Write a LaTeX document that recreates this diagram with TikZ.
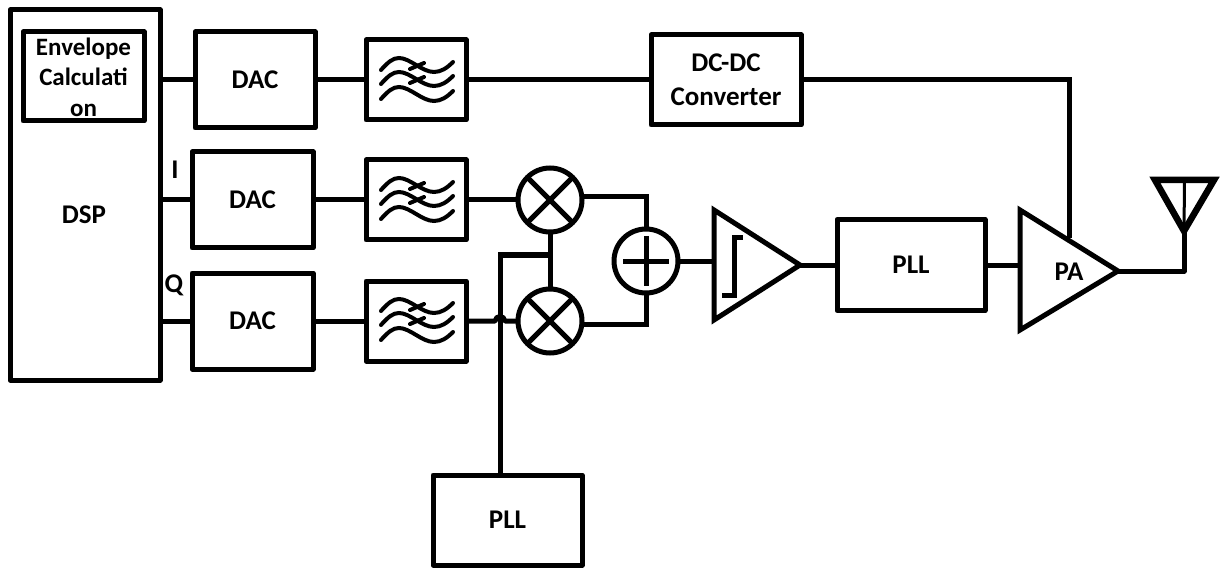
\documentclass[tikz,border=0pt]{standalone}
\usepackage{fontspec}
\setmainfont{Carlito}
\usetikzlibrary{calc}
\tikzset{
  wire/.style={line width=5pt,line join=round},
  box/.style={draw,line width=5pt,line join=round,rectangle,inner sep=0pt,outer sep=0pt,align=center,font=\fontsize{27}{34}\selectfont\bfseries},
  lbl/.style={inner sep=0pt,font=\fontsize{27}{34}\selectfont\bfseries},
  envlbl/.style={inner sep=0pt,align=center,font=\fontsize{25}{30.5}\selectfont\bfseries},
  ring/.style={draw,line width=5pt,circle,minimum size=64pt,inner sep=0pt,outer sep=0pt},
  wave/.style={line width=4pt,line cap=round},
  tri/.style={draw,line width=5pt,line join=miter},
}
\newcommand{\filterwaves}[1]{%
  \begin{scope}[shift={(#1.north west)}]
    \foreach \dy in {0,14,29}{
      \draw[wave] (15,30+\dy) .. controls (22,22+\dy) and (27,18+\dy) .. (33,18+\dy)
        .. controls (44,18+\dy) and (56,32+\dy) .. (68,32+\dy)
        .. controls (75,32+\dy) and (81,28+\dy) .. (87,22+\dy);
    }
    \draw[wave] (44,29) -- (58,23);
    \draw[wave] (44,43) -- (58,37);
  \end{scope}}
\begin{document}
\begin{tikzpicture}[x=1pt,y=-1pt]
\useasboundingbox (0,0) rectangle (1225,569);
% boxes
\node[box,minimum width=150pt,minimum height=370pt] (dsp) at (85,195) {};
\node[lbl] (dsptext) at (84,215) {DSP};
\node[box,minimum width=121pt,minimum height=89pt] (env) at (83.5,76.5) {};
\node[envlbl] (envtext) at (83.5,77) {Envelope\\Calculati\\on};
\node[box,minimum width=120pt,minimum height=96pt] (dac1) at (255,80) {DAC};
\node[box,minimum width=121pt,minimum height=96pt] (dac2) at (252.5,200) {DAC};
\node[box,minimum width=121pt,minimum height=96pt] (dac3) at (252.5,321) {DAC};
\node[box,minimum width=100pt,minimum height=80pt] (f1) at (416,80) {};
\node[box,minimum width=100pt,minimum height=80pt] (f2) at (416,200) {};
\node[box,minimum width=100pt,minimum height=80pt] (f3) at (416,321) {};
\filterwaves{f1}
\filterwaves{f2}
\filterwaves{f3}
\node[box,minimum width=150pt,minimum height=90pt] (dcdc) at (726,80) {DC-DC\\Converter};
\node[ring] (m1) at (550,200) {};
\node[ring] (m2) at (550,321) {};
\node[ring] (add) at (646,261) {};
\foreach \m in {m1,m2}{
  \draw[wire] (\m.45) -- (\m.225);
  \draw[wire] (\m.135) -- (\m.315);
}
\draw[wire] ($(add.center)+(-23,0)$) -- ($(add.center)+(23,0)$);
\draw[wire] ($(add.center)+(0,-25)$) -- ($(add.center)+(0,25)$);
\node[box,minimum width=148pt,minimum height=91pt] (pll1) at (911,265) {PLL};
\node[box,minimum width=149pt,minimum height=90pt] (pll2) at (507.5,520) {PLL};
% amplifier
\coordinate (ampt) at (714,210);
\coordinate (ampb) at (714,320);
\coordinate (ampo) at (800,265);
\draw[tri] (ampt) -- (ampo) -- (ampb) -- cycle;
\draw[wire,line join=miter] (722,295) -- (734,295) -- (734,238) -- (743,238);
% PA
\coordinate (pat) at (1020,210);
\coordinate (pab) at (1020,330);
\coordinate (pao) at (1118,271);
\draw[tri] (pat) -- (pao) -- (pab) -- cycle;
\node[lbl] (patext) at (1069,272) {PA};
% antenna
\coordinate (ant1) at (1155,180);
\coordinate (ant2) at (1214,180);
\coordinate (ant3) at (1184,231);
\draw[tri,line width=6.5pt] (ant1) -- (ant2) -- (ant3) -- cycle;
\draw[line width=3pt] ($(ant1)!.5!(ant2)$) -- (ant3);
\draw[wire] (ant3) -- (1184,271) -- (pao);
% labels
\node[lbl] (ilabel) at (175,170) {I};
\node[lbl] (qlabel) at (174,285) {Q};
% connectors
\draw[wire] (dsp.east |- dac1.west) -- (dac1.west);
\draw[wire] (dac1.east) -- (f1.west);
\draw[wire] (f1.east) -- (dcdc.west);
\coordinate (pajoin) at (1069.5,238);
\draw[wire,line join=miter] (dcdc.east) -- (1069.5,80) -- (pajoin);
\draw[wire] (dsp.east |- dac2.west) -- (dac2.west);
\draw[wire] (dac2.east) -- (f2.west);
\draw[wire] (f2.east) -- (m1.west);
\draw[wire] (dsp.east |- dac3.west) -- (dac3.west);
\draw[wire] (dac3.east) -- (f3.west);
\coordinate (hopa) at (495,321);
\coordinate (hopb) at (505,321);
\draw[wire] (f3.east) -- (hopa) .. controls (496,315) and (504,315) .. (hopb) -- (m2.west);
\coordinate (lojoin) at (550,255);
\draw[wire,line join=miter] (pll2.north -| 500,0) -- (500,255) -- (lojoin);
\draw[wire] (m1.south) -- (m2.north);
\draw[wire,line join=miter] ($(m1.east)+(0,-3)$) -- (646,197) -- (add.north);
\draw[wire,line join=miter] ($(m2.east)+(0,3)$) -- (646,324) -- (add.south);
\draw[wire] (add.east) -- (ampt |- add.east);
\draw[wire] (ampo) -- (pll1.west |- ampo);
\draw[wire] (pll1.east) -- (pat |- pll1.east);
\end{tikzpicture}
\end{document}
